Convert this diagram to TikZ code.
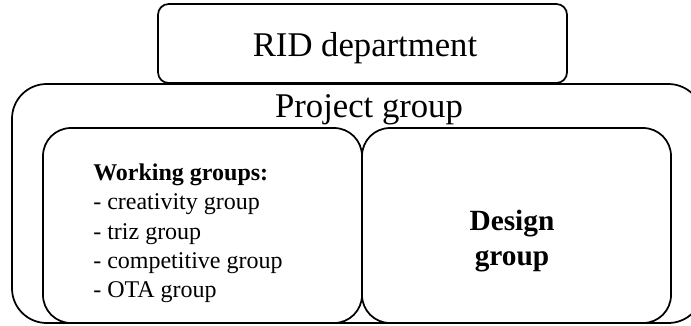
\documentclass[tikz,border=0pt]{standalone}
\usepackage{fontspec}
\setmainfont{Liberation Serif}
\usepackage{tikz}
\usetikzlibrary{positioning}

\tikzset{
  grpbox/.style={draw=black, line width=1.3pt},
  bigtxt/.style={font=\fontsize{26}{30}\selectfont, anchor=base, inner sep=0pt},
  listtxt/.style={font=\fontsize{18}{22}\selectfont, anchor=base west, inner sep=0pt},
  destxt/.style={font=\fontsize{22}{26}\selectfont\bfseries, anchor=base, inner sep=0pt},
}

\begin{document}
\begin{tikzpicture}[x=0.75pt,y=-0.75pt]
\clip (0,0) rectangle (691,325);

\draw[grpbox, rounded corners=26pt] (12,84) rectangle (703,323);
\draw[grpbox, rounded corners=21pt] (43,128) rectangle (362,323);
\draw[grpbox, rounded corners=21pt] (362,128) rectangle (671,323);
\draw[grpbox, rounded corners=8pt] (158,4) rectangle (567,83);

\node(rid)[bigtxt] at (365,56) {RID department};
\node(proj)[bigtxt] at (369,117) {Project group};

\node(wg)[listtxt] at (93,180) {\bfseries Working groups:};
\node(wg1)[listtxt] at (93,209.5) {- creativity group};
\node(wg2)[listtxt] at (93,239) {- triz group};
\node(wg3)[listtxt] at (93,268) {- competitive group};
\node(wg4)[listtxt] at (93,297) {- OTA group};

\node(des)[destxt] at (512,230) {Design};
\node(des2)[destxt] at (512,265) {group};
\end{tikzpicture}
\end{document}
